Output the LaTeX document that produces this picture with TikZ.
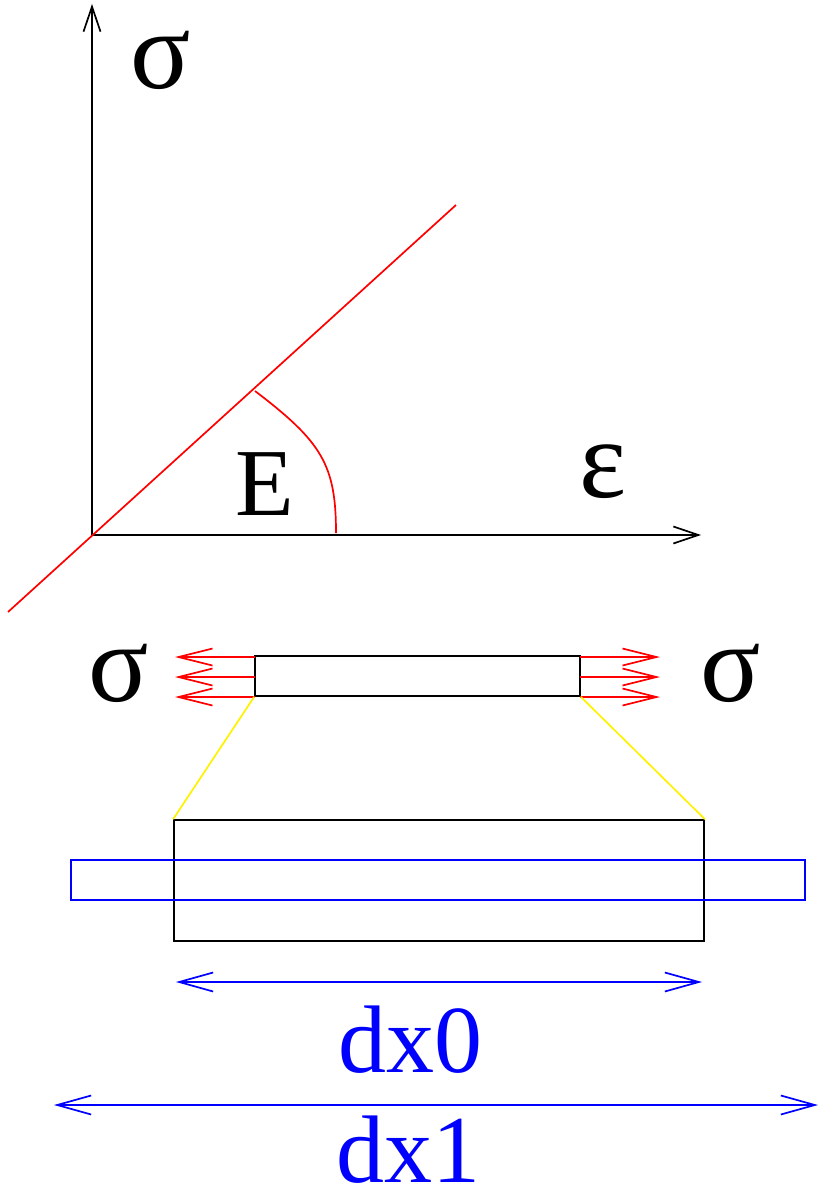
\documentclass[tikz,border=0pt]{standalone}
\usepackage{fontspec}
\setmainfont{Liberation Serif}
\usetikzlibrary{arrows.meta}
\tikzset{
  ln/.style={line width=1.7pt},
  barb/.style={-{Straight Barb[length=25pt,width=17pt,line width=1.7pt]}},
  rbarb/.style={-{Straight Barb[length=34pt,width=17pt,line width=1.7pt]}},
  bbarb/.style={{Straight Barb[length=34pt,width=19pt,line width=1.7pt]}-{Straight Barb[length=34pt,width=19pt,line width=1.7pt]}},
  big/.style={inner sep=0pt,font=\fontsize{96}{100}\selectfont},
  greek/.style={inner sep=0pt,font=\fontsize{112}{120}\selectfont},
}
\begin{document}
\begin{tikzpicture}[x=1pt,y=-1pt]
\useasboundingbox (0,0) rectangle (819,1190);
% axes
\coordinate (O) at (92,535);
\coordinate (ytop) at (92,4);
\coordinate (xend) at (701,535);
\draw[ln,barb] (O) -- (ytop);
\draw[ln,barb] (O) -- (xend);
\node[greek] (sig) at (161,60) {σ};
\node[greek] (eps) at (603,472) {ε};
\node[big] (E) at (265,484) {E};
% red line
\coordinate (r1) at (8,612);
\coordinate (r2) at (456,205);
\draw[ln,red] (r1) -- (r2);
\coordinate (a1) at (255,391);
\coordinate (a2) at (336,533);
\draw[ln,red] (a1) .. controls (322,442) and (336,465) .. (a2);
% small bar
\node[draw,ln,minimum width=325pt,minimum height=40pt,inner sep=0pt] (bar) at (417.5,676) {};
\foreach \y in {657,677,697}{
  \draw[ln,red,rbarb] (255,\y) -- (175,\y);
  \draw[ln,red,rbarb] (580,\y) -- (660,\y);
}
\node[greek] (sl) at (119,673) {σ};
\node[greek] (sr) at (731,673) {σ};
% magnified
\node[draw,ln,minimum width=530pt,minimum height=121pt,inner sep=0pt] (box) at (439,880.5) {};
\node[draw,ln,blue,minimum width=734pt,minimum height=40pt,inner sep=0pt] (bbox) at (438,880) {};
\draw[ln,yellow] (bar.south west) -- (box.north west);
\draw[ln,yellow] (bar.south east) -- (box.north east);
% dimension arrows
\coordinate (d0a) at (176,982);
\coordinate (d0b) at (702,982);
\draw[ln,blue,bbarb] (d0a) -- (d0b);
\node[big,blue] (dx0) at (410,1040) {dx0};
\coordinate (d1a) at (54,1105);
\coordinate (d1b) at (818,1105);
\draw[ln,blue,bbarb] (d1a) -- (d1b);
\node[big,blue] (dx1) at (408,1150) {dx1};
\end{tikzpicture}
\end{document}
